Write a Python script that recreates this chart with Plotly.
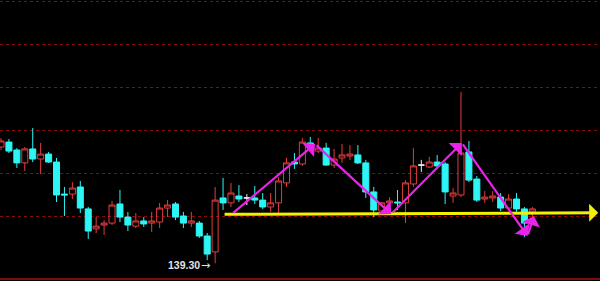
import plotly.graph_objects as go

# ---- data ----
opens = [144.71,144.94,144.57,143.97,144.62,144.15,144.38,144.01,142.52,142.52,
         142.85,141.83,140.90,141.08,141.17,142.06,141.45,141.03,141.27,141.17,
         141.22,141.87,142.06,141.50,141.17,141.17,140.57,139.83,142.34,142.11,
         142.43,142.34,142.34,142.24,141.92,142.11,143.04,144.01,143.92,144.90,
         144.52,144.66,143.87,144.20,144.29,144.34,143.97,142.62,141.73,142.11,
         142.15,142.11,142.99,143.87,143.78,144.01,143.92,142.43,142.48,144.48,
         143.22,142.29,142.34,142.38,141.87,142.29,141.83,141.69]
highs = [145.13,145.08,144.66,144.71,145.59,144.90,144.48,144.20,142.85,143.08,
         143.13,141.92,141.45,141.31,142.20,142.71,141.69,141.64,141.45,141.69,
         142.11,142.24,142.15,141.69,141.69,141.27,140.71,142.85,143.27,143.04,
         142.94,142.52,142.90,142.57,142.57,143.31,144.20,144.43,145.13,145.18,
         145.13,144.90,144.62,144.85,144.80,144.80,144.11,142.85,142.15,142.38,
         142.71,143.17,144.66,144.11,144.25,144.34,144.01,142.80,147.27,144.99,
         143.36,142.66,142.66,142.57,142.52,142.57,141.92,141.92]
lows = [144.57,144.43,143.73,143.59,144.01,143.45,143.97,142.15,141.50,142.29,
        141.64,140.43,140.71,140.62,141.08,141.22,140.80,140.94,140.99,140.76,
        140.94,141.45,141.31,140.94,140.99,140.48,139.45,139.30,141.78,141.92,
        142.15,142.01,142.06,141.83,141.69,141.55,142.85,143.69,143.83,144.62,
        144.43,143.83,143.73,143.97,144.11,143.92,142.34,141.45,141.64,141.64,
        141.78,141.17,142.85,143.55,143.73,143.69,142.06,142.11,142.38,143.08,
        142.15,142.11,142.15,141.73,141.78,141.69,140.52,141.41]
closes = [144.99,144.52,143.97,144.62,144.15,144.38,144.01,142.48,142.48,142.80,
          141.87,140.80,141.03,141.17,142.01,141.45,141.08,141.27,141.13,141.27,
          141.87,142.01,141.45,141.17,141.27,140.57,139.73,142.24,142.11,142.57,
          142.29,142.34,142.24,141.92,142.11,143.13,143.97,143.92,144.94,144.71,
          144.66,143.87,144.15,144.34,144.38,143.97,142.62,141.78,142.11,142.20,
          142.11,143.04,143.83,143.87,144.01,143.83,142.62,142.57,144.43,143.17,
          142.24,142.38,142.43,141.87,142.29,141.83,141.17,141.83]
bars = list(range(len(opens)))

# horizontal price grid levels
grid_levels = [141.5, 143.5, 145.5, 147.5, 149.5, 151.5]

# zig-zag pattern waypoints (bar index, price)
zz_x = [29.1, 39.6, 49.2, 58.1, 66.4, 67.2]
zz_y = [141.59, 144.85, 141.59, 144.90, 140.57, 141.50]

# yellow support line
support_x = [28.0, 75.3]
support_y = [141.58, 141.65]

low_label = "139.30"
low_arrow = "→"
low_bar = 27
low_price = 139.30

# ---- styling ----
RED = "#E23C3C"
CYAN = "#2EF5F5"
WHITE = "#F0F0F0"
MAGENTA = "#EA22EA"
YELLOW = "#F2F200"
GRID = "#8A0A0A"
LABEL = "#E4E4E4"

norm = [i for i in bars if opens[i] != closes[i]]
doji = [i for i in bars if opens[i] == closes[i]]

def pick(arr, idx):
    return [arr[i] for i in idx]

fig = go.Figure()
fig.add_trace(go.Candlestick(
    x=norm, open=pick(opens, norm), high=pick(highs, norm),
    low=pick(lows, norm), close=pick(closes, norm),
    increasing=dict(line=dict(color=RED, width=1), fillcolor="rgba(0,0,0,0)"),
    decreasing=dict(line=dict(color=CYAN, width=1), fillcolor=CYAN),
    hoverinfo="skip", showlegend=False))
fig.add_trace(go.Candlestick(
    x=doji, open=pick(opens, doji), high=pick(highs, doji),
    low=pick(lows, doji), close=pick(closes, doji),
    increasing=dict(line=dict(color=WHITE, width=1), fillcolor=WHITE),
    decreasing=dict(line=dict(color=WHITE, width=1), fillcolor=WHITE),
    hoverinfo="skip", showlegend=False))

annotations = []
# yellow support arrow
annotations.append(dict(
    x=support_x[1], y=support_y[1], ax=support_x[0], ay=support_y[0],
    xref="x", yref="y", axref="x", ayref="y", text="", showarrow=True,
    arrowhead=1, arrowsize=1.0, arrowwidth=3, arrowcolor=YELLOW,
    standoff=0, startstandoff=0))
# magenta zig-zag arrows
for k in range(len(zz_x) - 1):
    annotations.append(dict(
        x=zz_x[k + 1], y=zz_y[k + 1], ax=zz_x[k], ay=zz_y[k],
        xref="x", yref="y", axref="x", ayref="y", text="", showarrow=True,
        arrowhead=1, arrowsize=1.4, arrowwidth=2.2, arrowcolor=MAGENTA,
        standoff=0, startstandoff=0))
# low label
annotations.append(dict(
    x=low_bar, y=low_price, xref="x", yref="y", text="<b>" + low_label + "</b>",
    showarrow=False, xanchor="right", yanchor="middle", xshift=-13, yshift=-2,
    font=dict(family="Liberation Sans, Arial, sans-serif", size=10.5, color=LABEL)))
annotations.append(dict(
    x=low_bar, y=low_price, xref="x", yref="y", text=low_arrow,
    showarrow=False, xanchor="right", yanchor="middle", xshift=-3, yshift=-2,
    font=dict(family="DejaVu Sans, sans-serif", size=11, color=LABEL)))

fig.update_layout(
    width=600, height=281,
    margin=dict(l=0, r=0, t=0, b=0),
    paper_bgcolor="black", plot_bgcolor="black",
    showlegend=False,
    boxgap=0.24, boxgroupgap=0,
    annotations=annotations,
    shapes=[dict(type="line", xref="paper", yref="y", x0=0, x1=1,
                 y0=138.57, y1=138.57, line=dict(color="#A01414", width=1.5))],
    xaxis=dict(range=[-0.126, 75.53], showticklabels=False, showgrid=False,
               zeroline=False, showline=False, ticks="",
               rangeslider=dict(visible=False), fixedrange=True),
    yaxis=dict(range=[138.477, 151.547], showticklabels=False, showgrid=True,
               gridcolor=GRID, griddash="dot", gridwidth=1,
               tickmode="array", tickvals=grid_levels,
               zeroline=False, showline=False, ticks="",
               fixedrange=True),
)

fig.write_html("out.html", config={"displayModeBar": False})
